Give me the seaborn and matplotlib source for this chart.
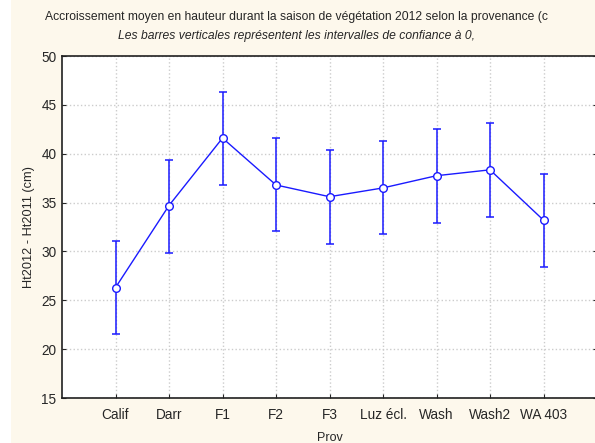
import numpy as np
import pandas as pd
import matplotlib
matplotlib.use('Agg')
import matplotlib.pyplot as plt
import seaborn as sns

# données
prov = ['Calif', 'Darr', 'F1', 'F2', 'F3', 'Luz écl.', 'Wash', 'Wash2', 'WA 403']
moyenne = [26.3, 34.7, 41.6, 36.8, 35.6, 36.5, 37.75, 38.35, 33.2]
borne_inf = [21.5, 29.85, 36.8, 32.05, 30.8, 31.75, 32.95, 33.55, 28.45]
borne_sup = [31.05, 39.4, 46.3, 41.6, 40.35, 41.3, 42.5, 43.1, 37.95]

df = pd.DataFrame({'pos': np.arange(len(prov)), 'Prov': prov, 'moy': moyenne,
                   'inf': borne_inf, 'sup': borne_sup})

sns.set_style('white')
plt.rcParams['font.family'] = ['Liberation Sans', 'DejaVu Sans']

creme = '#fdf8ec'
bleu = '#1a1aff'

fig = plt.figure(figsize=(5.95, 4.43), dpi=100, facecolor=creme)
ax = fig.add_axes([62 / 595, 45 / 443, 535 / 595, 342 / 443])
# bande blanche à gauche
fig.patches.append(plt.Rectangle((0, 0), 11 / 595, 1, transform=fig.transFigure,
                                 facecolor='white', edgecolor='none', zorder=-1))

ax.errorbar(df['pos'], df['moy'],
            yerr=[df['moy'] - df['inf'], df['sup'] - df['moy']],
            fmt='none', ecolor=bleu, elinewidth=1.1, capsize=3, capthick=1.1, zorder=2)
sns.lineplot(data=df, x='pos', y='moy', ax=ax, color=bleu, linewidth=1,
             marker='o', markersize=5.5, markerfacecolor='white',
             markeredgecolor=bleu, markeredgewidth=1, zorder=3)

ax.set_xlim(-1, 9)
ax.set_ylim(15, 50)
ax.set_xticks(df['pos'])
ax.set_xticklabels(prov, fontsize=9.8)
ax.set_yticks(np.arange(15, 51, 5))
ax.tick_params(axis='y', labelsize=9.8, direction='in', length=3, left=True, right=True, pad=4)
ax.tick_params(axis='x', direction='in', length=3, bottom=True, pad=7.5)
ax.grid(True, color='#cccccc', linestyle=':', linewidth=1)
ax.set_xlabel('Prov', fontsize=9, labelpad=7)
ax.set_ylabel('Ht2012 - Ht2011 (cm)', fontsize=9.2, labelpad=4.5)
for s in ['left', 'bottom', 'top']:
    ax.spines[s].set_color('#202020')
    ax.spines[s].set_linewidth(1.2)
ax.spines['right'].set_visible(False)

fig.text(296 / 595, 1 - 17 / 443,
         'Accroissement moyen en hauteur durant la saison de végétation 2012 selon la provenance (c',
         ha='center', va='center', fontsize=8.7)
fig.text(296 / 595, 1 - 36 / 443,
         'Les barres verticales représentent les intervalles de confiance à 0,',
         ha='center', va='center', fontsize=8.7, style='italic')

fig.savefig('out.png', dpi=100, facecolor=creme)
